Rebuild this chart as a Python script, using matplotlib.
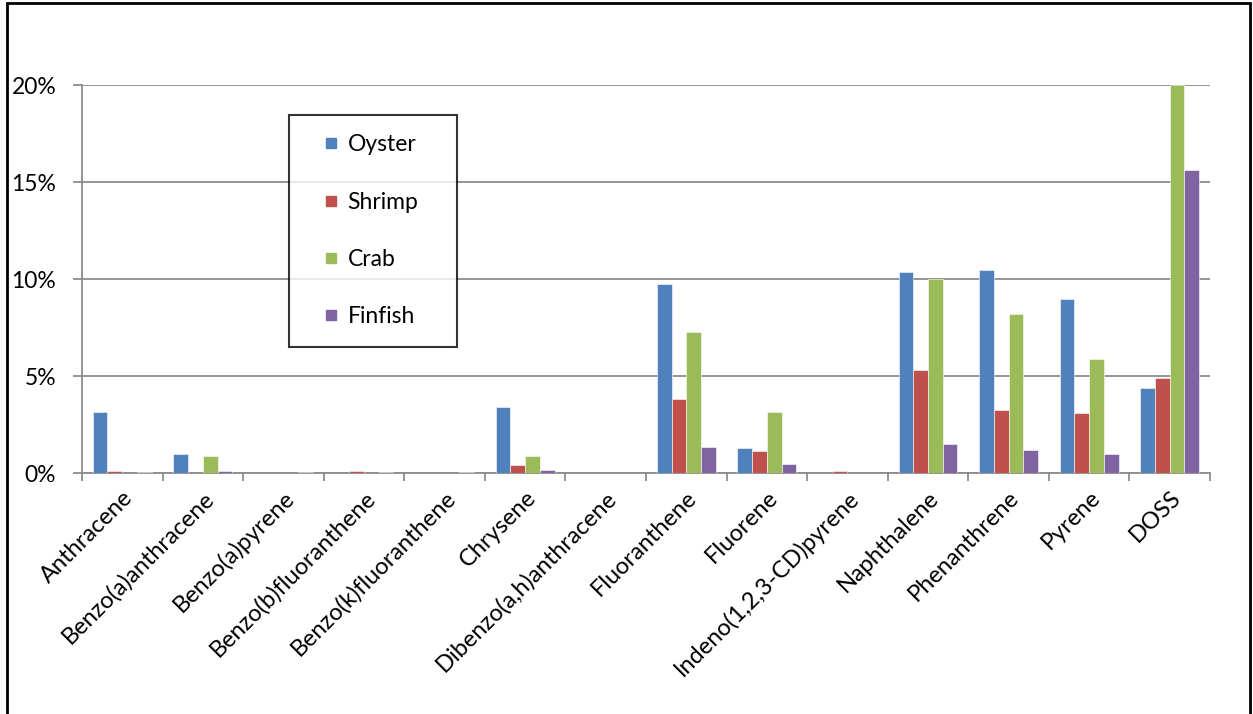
import matplotlib.pyplot as plt
import numpy as np
from matplotlib.lines import Line2D
from matplotlib.patches import Rectangle
from matplotlib.ticker import FuncFormatter, MultipleLocator

# -----------------------
# Detection rates (%) by compound and seafood type
# -----------------------
compounds = ["Anthracene", "Benzo(a)anthracene", "Benzo(a)pyrene", "Benzo(b)fluoranthene",
             "Benzo(k)fluoranthene", "Chrysene", "Dibenzo(a,h)anthracene", "Fluoranthene",
             "Fluorene", "Indeno(1,2,3-CD)pyrene", "Naphthalene", "Phenanthrene", "Pyrene", "DOSS"]
oyster = [3.13, 0.98, 0.0, 0.0, 0.0, 3.43, 0.0, 9.73, 1.31, 0.0, 10.36, 10.45, 9.0, 4.39]
shrimp = [0.12, 0.0, 0.0, 0.12, 0.0, 0.41, 0.0, 3.84, 1.15, 0.12, 5.34, 3.27, 3.1, 4.89]
crab = [0.0, 0.86, 0.0, 0.0, 0.0, 0.86, 0.0, 7.25, 3.15, 0.0, 10.0, 8.18, 5.9, 20.0]
finfish = [0.05, 0.12, 0.03, 0.05, 0.05, 0.17, 0.02, 1.36, 0.48, 0.0, 1.51, 1.2, 1.0, 15.62]

series = [("Oyster", oyster, "#4F81BD"),
          ("Shrimp", shrimp, "#C0504D"),
          ("Crab", crab, "#9BBB59"),
          ("Finfish", finfish, "#8064A2")]

plt.rcParams['font.family'] = ['Lato', 'DejaVu Sans']
FS = 16.5

fig = plt.figure(figsize=(12.53, 7.14), dpi=100)
ax = fig.add_axes([0.0654, 0.3375, 0.9003, 0.543])

x = np.arange(len(compounds))
bar_w = 0.183
for i, (name, vals, color) in enumerate(series):
    ax.bar(x + (i - 1.5) * bar_w, vals, width=bar_w, color=color,
           edgecolor="white", linewidth=0.4, zorder=3)

ax.set_xlim(-0.5, len(compounds) - 0.5)
ax.set_ylim(0, 20)
ax.yaxis.set_major_locator(MultipleLocator(5))
ax.yaxis.set_major_formatter(FuncFormatter(lambda v, _: f"{v:.0f}%"))
ax.grid(axis="y", color="#8c8c8c", linewidth=1.3, zorder=0)

for side in ("top", "right"):
    ax.spines[side].set_visible(False)
for side in ("left", "bottom"):
    ax.spines[side].set_color("#8c8c8c")
    ax.spines[side].set_linewidth(1.3)

# category boundaries get the tick marks, names sit under the centres
ax.set_xticks(np.arange(len(compounds) + 1) - 0.5, minor=False)
ax.set_xticklabels([])
ax.set_xticks(x, minor=True)
ax.set_xticklabels(compounds, minor=True, rotation=45, ha="right", va="top",
                   rotation_mode="anchor", fontsize=17)
ax.tick_params(axis="x", which="major", direction="out", length=6, width=1.3, color="#8c8c8c")
ax.tick_params(axis="x", which="minor", length=0, pad=10)
ax.tick_params(axis="y", direction="out", length=6.5, width=1.3, color="#8c8c8c",
               labelsize=FS, pad=12)

handles = [Line2D([], [], marker="s", linestyle="none", markersize=7.5,
                  markerfacecolor=color, markeredgecolor=color)
           for _, _, color in series]
leg = ax.legend(handles, [name for name, _, _ in series], loc="upper left",
                bbox_to_anchor=(289 / 1253, 1 - 343 / 714, 168 / 1253, 228 / 714),
                bbox_transform=fig.transFigure, mode="expand", fontsize=FS,
                frameon=True, fancybox=False, handlelength=2.0,
                labelspacing=1.58, borderpad=0.85, handletextpad=-0.3,
                borderaxespad=0)
leg.get_frame().set_edgecolor("black")
leg.get_frame().set_linewidth(1.5)

# outer chart frame
fig.patches.append(Rectangle((7 / 1253, -0.01), 1243 / 1253, 1.0 - 3 / 714 + 0.01,
                             transform=fig.transFigure, fill=False,
                             edgecolor="black", linewidth=2))

fig.savefig("out.png", dpi=100)
